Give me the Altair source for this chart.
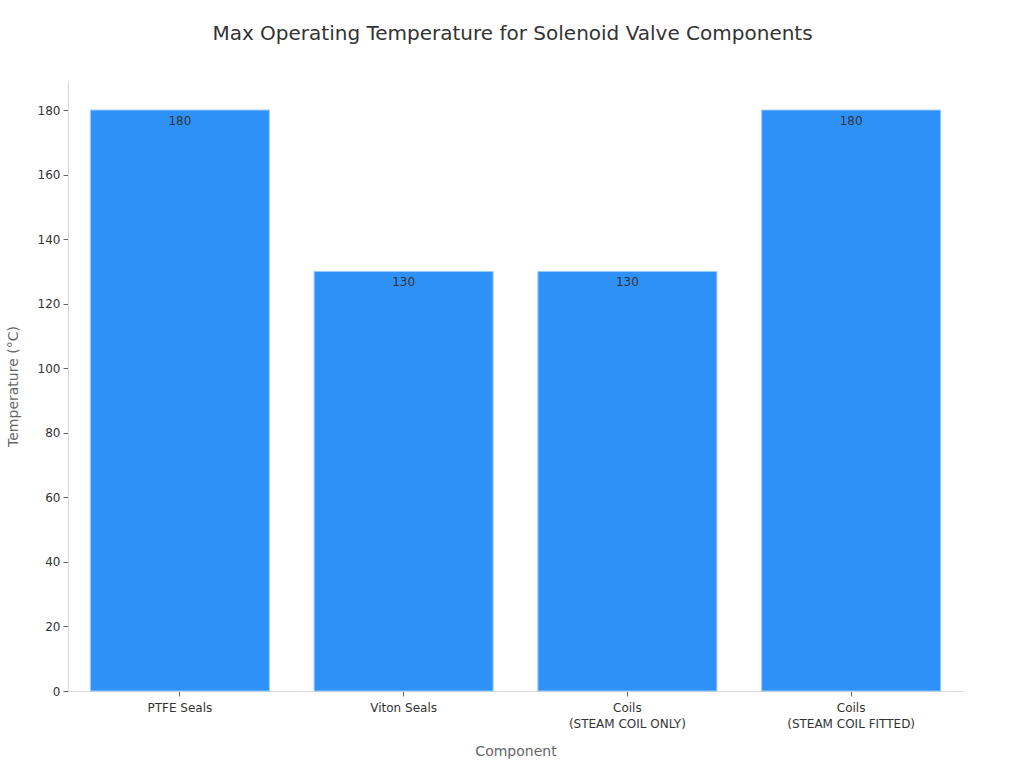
import altair as alt
import pandas as pd

# Component temperature limits (°C)
components = [
    "PTFE Seals",
    "Viton Seals",
    "Coils\n(STEAM COIL ONLY)",
    "Coils\n(STEAM COIL FITTED)",
]
max_temps = [180, 130, 130, 180]

df = pd.DataFrame({"Component": components, "Temperature": max_temps})

base = alt.Chart(df).encode(
    x=alt.X(
        "Component:N",
        sort=components,
        title="Component",
        scale=alt.Scale(paddingInner=0.2, paddingOuter=0.1),
        axis=alt.Axis(
            labelAngle=0,
            labelExpr="split(datum.label, '\\n')",
            labelFontSize=12,
            labelColor="#333333",
            labelPadding=6,
            labelLineHeight=16,
            titleFontSize=14,
            titleFontWeight="normal",
            titleColor="#666666",
            titlePadding=15,
            domainColor="#d9d9d9",
            tickColor="#666666",
            tickSize=5,
        ),
    ),
    y=alt.Y(
        "Temperature:Q",
        title="Temperature (°C)",
        scale=alt.Scale(domain=[0, 189], nice=False),
        axis=alt.Axis(
            values=[0, 20, 40, 60, 80, 100, 120, 140, 160, 180],
            grid=False,
            labelFontSize=12,
            labelColor="#333333",
            labelPadding=3,
            titleFontSize=14,
            titleFontWeight="normal",
            titleColor="#666666",
            titlePadding=17,
            domainColor="#d9d9d9",
            tickColor="#666666",
            tickSize=5,
        ),
    ),
)

bars = base.mark_bar(color="#2E91F8", stroke="#9ccaf9", strokeWidth=1)

labels = base.mark_text(
    baseline="top", dy=6, fontSize=12, color="#333333", font="DejaVu Sans"
).encode(text="Temperature:Q")

chart = (
    (bars + labels)
    .properties(
        width=895,
        height=610,
        title=alt.TitleParams(
            "Max Operating Temperature for Solenoid Valve Components",
            fontSize=20,
            fontWeight="normal",
            color="#333333",
            offset=37,
            anchor="middle",
            dx=-3,
        ),
        padding={"left": 68, "top": 81, "right": 61, "bottom": 77},
        autosize=alt.AutoSizeParams(type="none"),
    )
    .configure(font="DejaVu Sans")
    .configure_view(stroke=None)
)

chart.save("out.html", embed_options={"renderer": "svg", "actions": False})
